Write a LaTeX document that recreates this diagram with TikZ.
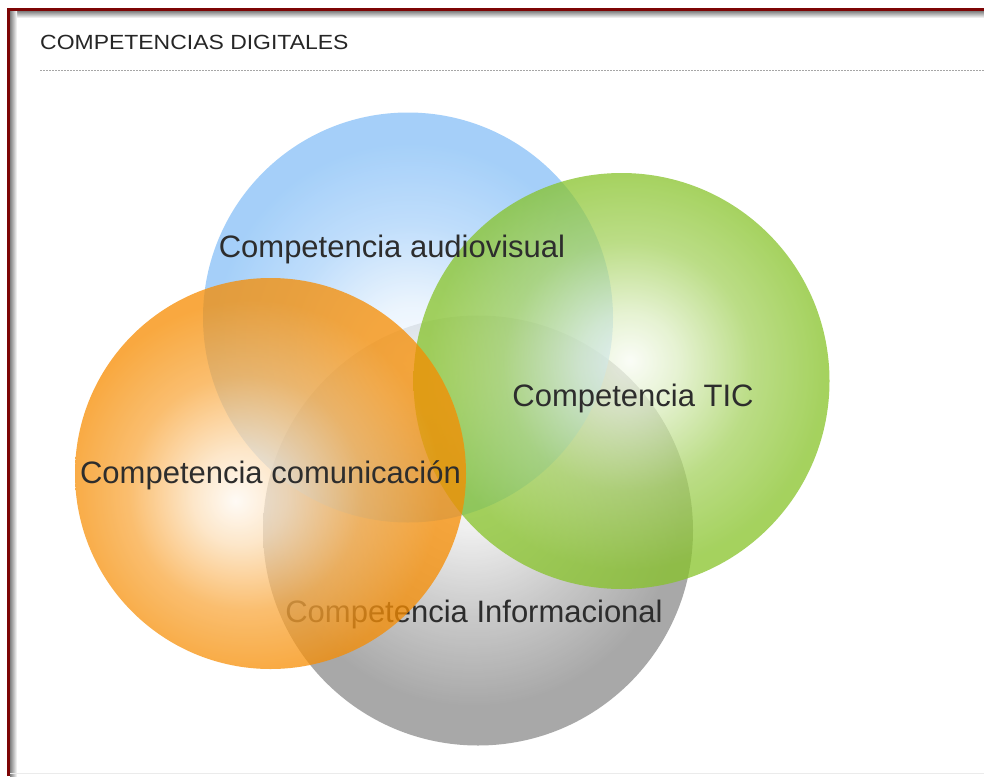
\documentclass[tikz,border=0pt]{standalone}
\usepackage{fontspec}
\setmainfont{Liberation Sans}
\definecolor{bluec}{RGB}{135,192,248}
\definecolor{greenc}{RGB}{135,195,41}
\definecolor{orangec}{RGB}{247,140,0}
\definecolor{grayc}{RGB}{140,140,140}
\definecolor{txt}{RGB}{45,45,45}
\definecolor{framered}{RGB}{125,5,5}
\pgfdeclareradialshading{blueball}{\pgfpoint{0.5bp}{-5bp}}{color(0bp)=(bluec!5!white); color(6bp)=(bluec!22!white); color(15bp)=(bluec!70!white); color(24bp)=(bluec); color(50bp)=(bluec)}
\pgfdeclareradialshading{greenball}{\pgfpoint{1bp}{2.5bp}}{color(0bp)=(greenc!5!white); color(6bp)=(greenc!28!white); color(15bp)=(greenc!75!white); color(24bp)=(greenc); color(50bp)=(greenc)}
\pgfdeclareradialshading{orangeball}{\pgfpoint{-4.5bp}{-3.5bp}}{color(0bp)=(orangec!5!white); color(6bp)=(orangec!28!white); color(15bp)=(orangec!75!white); color(24bp)=(orangec); color(50bp)=(orangec)}
\pgfdeclareradialshading{grayball}{\pgfpoint{-1bp}{7bp}}{color(0bp)=(white); color(6bp)=(grayc!18!white); color(15bp)=(grayc!62!white); color(24bp)=(grayc); color(50bp)=(grayc)}
\tikzset{
  venn/.style={circle, inner sep=0pt, shade, fill opacity=0.75, draw=none},
  lbl/.style={anchor=base, text=txt, inner sep=0pt, font=\fontsize{31}{36}\selectfont},
}
\begin{document}
\begin{tikzpicture}[x=1pt, y=-1pt]
\useasboundingbox (0,0) rectangle (984,776);
\fill[white] (0,0) rectangle (984,776);
% frame shadow
\shade[top color=black!50, bottom color=white] (10,11) rectangle (984,18);
\shade[left color=black!50, right color=white] (10,11) rectangle (17,776);
\draw[framered, line width=3pt] (8.5,776) -- (8.5,9.5) -- (984,9.5);
\draw[black!8, line width=1pt] (10,773.5) -- (984,773.5);
% title
\node[anchor=base west, inner sep=0pt, text=black!85, font=\fontsize{20.5}{24}\selectfont] (title) at (40,50) {\scalebox{1.12}[1]{COMPETENCIAS DIGITALES}};
\coordinate (rulea) at (40,70);
\coordinate (ruleb) at (984,70);
\draw[black!35, line width=1pt, dash pattern=on 2pt off 1pt] (rulea) -- (ruleb);
% circles
\node[venn, shading=grayball, minimum size=430pt] (gray) at (478,530.5) {};
\node[lbl] (tinfo) at (474,622) {Competencia Informacional};
\node[venn, shading=blueball, minimum size=410pt] (blue) at (408,317.5) {};
\node[venn, shading=greenball, minimum size=416pt] (green) at (621.5,381) {};
\node[venn, shading=orangeball, minimum size=391pt] (orange) at (270.5,473.5) {};
\node[lbl] (taudio) at (392,257) {Competencia audiovisual};
\node[lbl] (ttic) at (633,406) {Competencia TIC};
\node[lbl] (tcom) at (270.5,483) {Competencia comunicación};
\end{tikzpicture}
\end{document}
